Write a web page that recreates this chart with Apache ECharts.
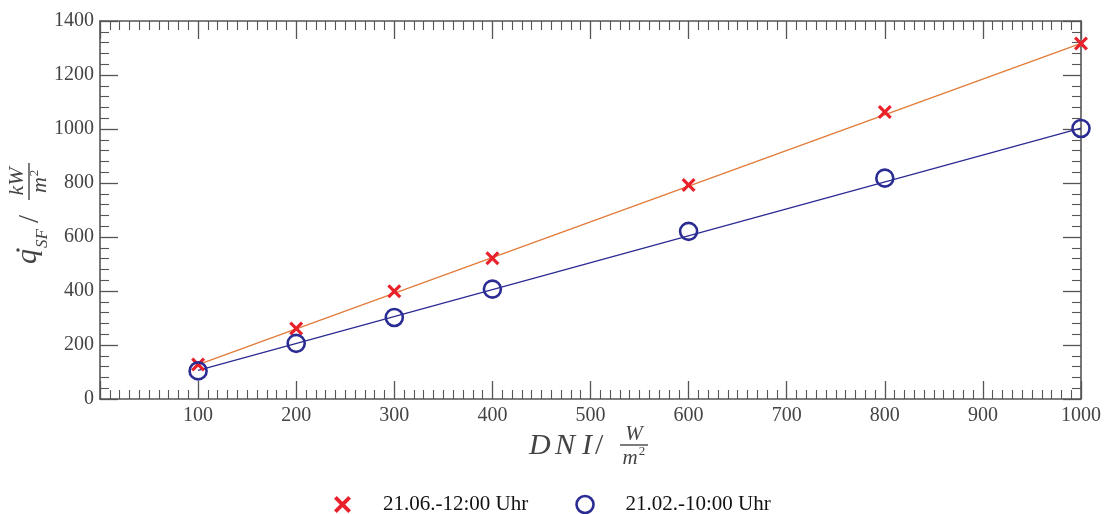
<!DOCTYPE html>
<html>
<head>
<meta charset="utf-8">
<title>DNI vs q_SF</title>
<script src="https://cdn.jsdelivr.net/npm/echarts@6/dist/echarts.min.js"></script>
<style>
  html, body { margin: 0; padding: 0; background: #fff; }
  #chart { width: 1107px; height: 514px; }
</style>
</head>
<body>
<div id="chart"></div>
<script>
// Direct normal irradiance (W/m²) at which the solar field was evaluated
const dni = [100, 200, 300, 400, 600, 800, 1000];
// Solar field heat flux (kW/m²) for the two reference moments
const juneValues = [128, 261, 399, 521, 793, 1063, 1317];
const febValues = [104, 206, 302, 407, 621, 818, 1002];
// Linear fit end points (DNI, q_SF)
const juneFit = [[100, 127], [1000, 1317]];
const febFit = [[100, 106], [1000, 1003]];
// Axis ranges and tick steps
const xRange = [0, 1000, 100];
const yRange = [0, 1400, 200];
const seriesNames = ['21.06.-12:00 Uhr', '21.02.-10:00 Uhr'];

const SERIF = '"Liberation Serif", "DejaVu Serif", serif';
const AXIS_COLOR = '#555';
const LABEL_COLOR = '#444';
const RED = '#e8212b';
const BLUE = '#2b2b94';
const ORANGE = '#e07b39';
const CROSS = 'path://M0,1.6L1.6,0L5,3.4L8.4,0L10,1.6L6.6,5L10,8.4L8.4,10L5,6.6L1.6,10L0,8.4L3.4,5Z';

function pairs(xs, ys) { return xs.map((x, i) => [x, ys[i]]); }

function boxAxis(range, pos, showLabel, minorSplit, isX) {
  return {
    type: 'value',
    position: pos,
    min: range[0], max: range[1], interval: range[2],
    axisLine: { show: true, onZero: false, lineStyle: { color: AXIS_COLOR, width: 1.6 } },
    axisTick: { show: true, inside: true, length: 18, lineStyle: { color: AXIS_COLOR, width: 1.3 } },
    minorTick: { show: true, splitNumber: minorSplit, length: 9, lineStyle: { color: AXIS_COLOR, width: 1.1 } },
    splitLine: { show: false },
    minorSplitLine: { show: false },
    axisLabel: {
      show: showLabel,
      showMinLabel: isX ? false : true,
      color: LABEL_COLOR, fontFamily: SERIF, fontSize: 20,
      margin: isX ? 7 : 6,
      formatter: (v) => String(v)
    }
  };
}

function txt(text, x, y, size, opts) {
  opts = opts || {};
  return {
    type: 'text',
    style: {
      text: text, x: x, y: y,
      font: (opts.italic ? 'italic ' : '') + size + 'px ' + SERIF,
      fill: opts.fill || LABEL_COLOR,
      align: opts.align || 'left',
      verticalAlign: 'middle'
    },
    silent: true
  };
}

const chart = echarts.init(document.getElementById('chart'), null, { renderer: 'canvas' });

chart.setOption({
  backgroundColor: '#fff',
  animation: false,
  grid: { left: 100, right: 26, top: 21, bottom: 115, containLabel: false },
  xAxis: [
    boxAxis(xRange, 'bottom', true, 10, true),
    boxAxis(xRange, 'top', false, 10, true)
  ],
  yAxis: [
    boxAxis(yRange, 'left', true, 5, false),
    boxAxis(yRange, 'right', false, 5, false)
  ],
  legend: {
    data: [
      { name: seriesNames[0], itemStyle: { color: RED } },
      { name: seriesNames[1], itemStyle: { color: 'rgba(0,0,0,0)', borderColor: BLUE, borderWidth: 2.6 } }
    ],
    left: 329, top: 489,
    itemWidth: 17, itemHeight: 17,
    itemGap: 47,
    textStyle: { fontFamily: SERIF, fontSize: 21, color: '#111', padding: [0, 0, 0, 27] }
  },
  graphic: [
    // x-axis title: DNI / (W / m²)
    txt('D', 529, 446, 30, { italic: true }),
    txt('N', 555, 446, 30, { italic: true }),
    txt('I', 582, 446, 30, { italic: true }),
    txt('/', 595, 446, 30, { italic: false }),
    { type: 'line', shape: { x1: 620, y1: 445, x2: 648, y2: 445 }, style: { stroke: LABEL_COLOR, lineWidth: 1.4 }, silent: true },
    txt('W', 634, 434, 21, { italic: true, align: 'center' }),
    txt('m', 630, 458, 21, { italic: true, align: 'center' }),
    txt('2', 642, 452, 13, { align: 'center' }),
    // y-axis title: q̇_SF / (kW / m²), reading bottom to top
    {
      type: 'group',
      x: 38, y: 213,
      rotation: Math.PI / 2,
      silent: true,
      children: [
        txt('q', -51, -10, 30, { italic: true }),
        { type: 'circle', shape: { cx: -37, cy: -20, r: 1.7 }, style: { fill: LABEL_COLOR }, silent: true },
        txt('SF', -35, 4.6, 17, { italic: true }),
        txt('/', -10, -8, 29),
        { type: 'line', shape: { x1: 13, y1: -9, x2: 50, y2: -9 }, style: { stroke: LABEL_COLOR, lineWidth: 1.4 }, silent: true },
        txt('kW', 31.5, -20.5, 22, { italic: true, align: 'center' }),
        txt('m', 28, 2.5, 22, { italic: true, align: 'center' }),
        txt('2', 40, -3.5, 13, { align: 'center' })
      ]
    }
  ],
  series: [
    {
      type: 'line', name: 'fit-june', data: juneFit,
      showSymbol: false, silent: true, z: 1,
      lineStyle: { color: ORANGE, width: 1.3 }
    },
    {
      type: 'line', name: 'fit-feb', data: febFit,
      showSymbol: false, silent: true, z: 1,
      lineStyle: { color: BLUE, width: 1.3 }
    },
    {
      type: 'scatter', name: seriesNames[0], data: pairs(dni, juneValues),
      symbol: CROSS, symbolSize: 14, z: 3,
      itemStyle: { color: RED, opacity: 1 }
    },
    {
      type: 'scatter', name: seriesNames[1], data: pairs(dni, febValues),
      symbol: 'circle', symbolSize: 17, z: 3,
      itemStyle: { color: 'rgba(0,0,0,0)', borderColor: BLUE, borderWidth: 2.6, opacity: 1 }
    }
  ]
});
</script>
</body>
</html>
